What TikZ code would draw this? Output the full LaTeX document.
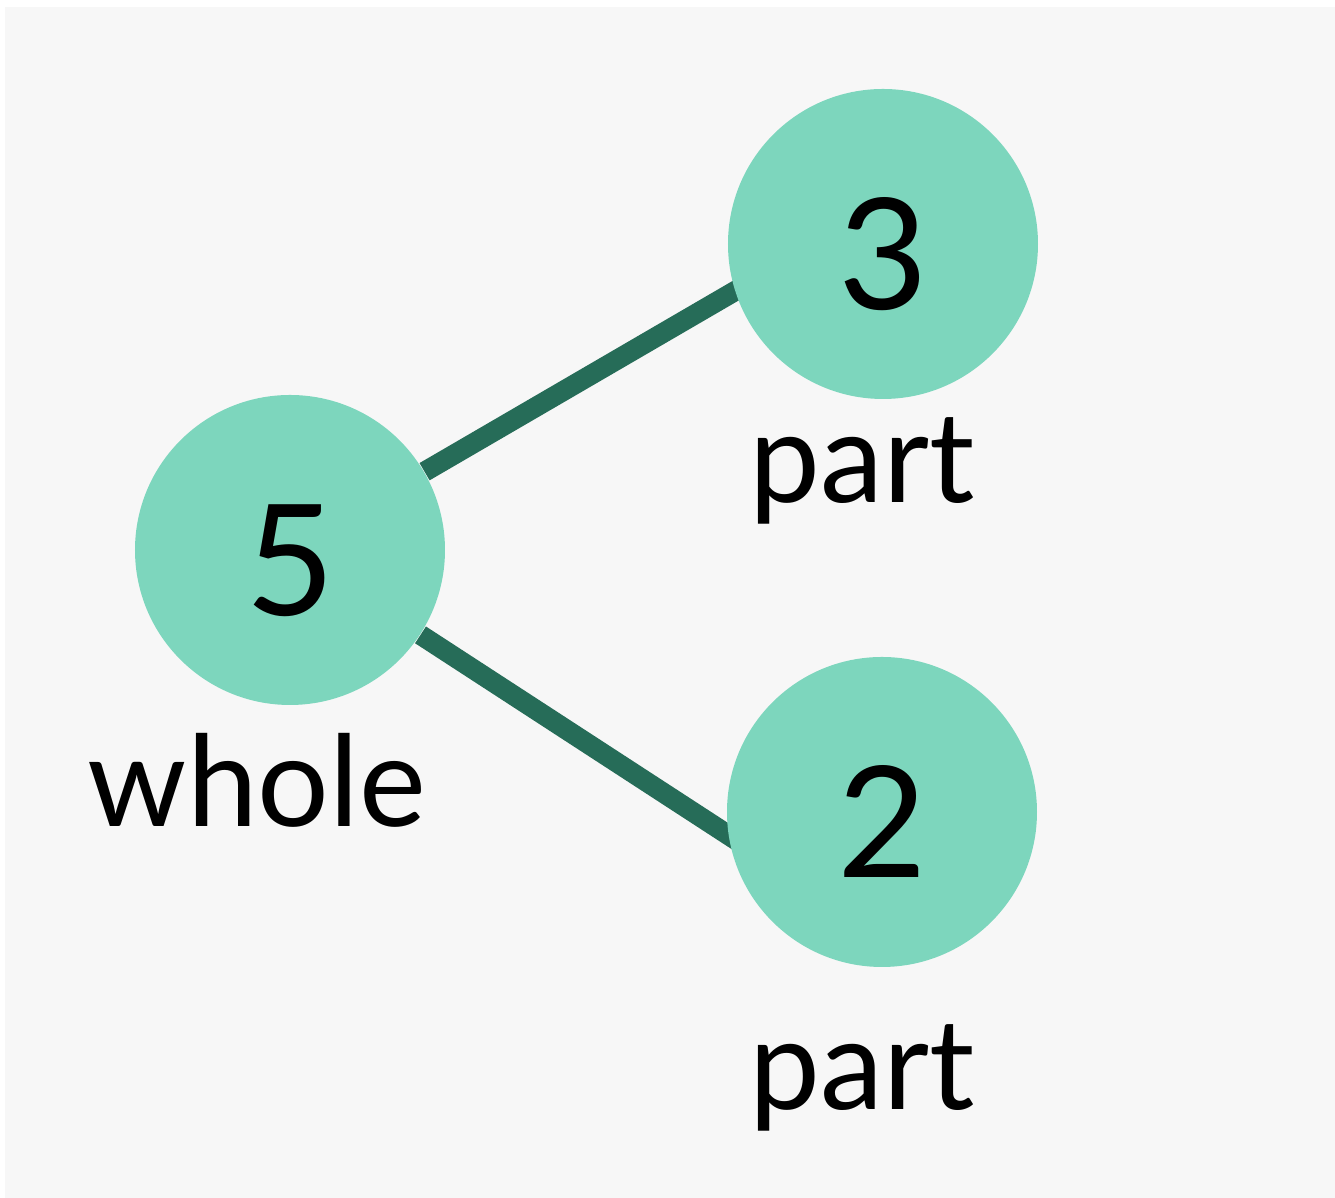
\documentclass[tikz,border=0pt]{standalone}
\usepackage{fontspec}
\setmainfont{Lato}
\usetikzlibrary{positioning,backgrounds}
\definecolor{mint}{RGB}{125,214,189}
\definecolor{darkteal}{RGB}{38,108,88}
\definecolor{paper}{RGB}{247,247,247}

\begin{document}
\begin{tikzpicture}
\useasboundingbox (0,0) rectangle (13.35,11.98);

\begin{scope}[every node/.style={circle,fill=mint,inner sep=0pt,minimum size=3.1cm,
              text height=1.32cm,text depth=0cm,font=\fontsize{44}{48}\selectfont}]
    \node (N5) at (2.90,6.48) {5};
    \node (N3) at (8.83,9.54) {3};
    \node (N2) at (8.82,3.86) {2};
\end{scope}

\begin{scope}[every node/.style={anchor=base,font=\fontsize{36}{40}\selectfont}]
    \node (whole) at (2.57,3.71) {whole};
    \node (part3) at (8.62,6.95) {part};
    \node (part2) at (8.62,0.88) {part};
\end{scope}

% the lines run behind the circles
\coordinate (aim3) at (8.83,9.93);
\coordinate (aim2) at (8.82,2.63);
\begin{scope}[on background layer]
     \fill [paper] (0.05,0) rectangle (13.35,11.91);
     \draw [draw=darkteal,line width=0.2cm] (N5) -- (aim3);
     \draw [draw=darkteal,line width=0.2cm] (N5) -- (aim2);
\end{scope}
\end{tikzpicture}
\end{document}
